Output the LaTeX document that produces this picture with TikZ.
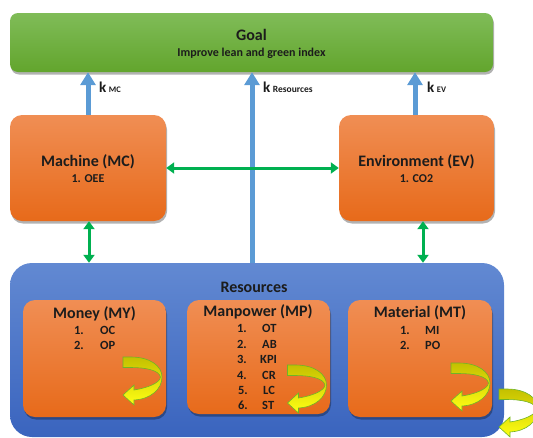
\documentclass[tikz,border=0pt]{standalone}
\usepackage{fontspec}
\setmainfont{Carlito}
\usetikzlibrary{arrows.meta,shadows,calc}
\definecolor{txtc}{RGB}{28,28,28}
\definecolor{goalT}{RGB}{128,188,88}
\definecolor{goalB}{RGB}{98,165,45}
\definecolor{orT}{RGB}{240,142,84}
\definecolor{orB}{RGB}{231,106,26}
\definecolor{blT}{RGB}{98,137,210}
\definecolor{blB}{RGB}{58,100,190}
\definecolor{arrblue}{RGB}{91,155,213}
\definecolor{arrgreen}{RGB}{0,176,80}
\definecolor{curvT}{RGB}{196,192,0}
\definecolor{curvB}{RGB}{255,255,20}
\definecolor{curvO}{RGB}{110,180,40}
\newcommand{\curvarrow}[2]{%
  \begin{scope}[shift={(#1,#2)}]
    \path[curvstyle] (0,0) -- (8,0) .. controls (27,0) and (39,9) .. (39,20)
      .. controls (39,32) and (28,42) .. (11,43) -- (11,48) -- (0,38) -- (11,28) -- (11,33)
      .. controls (24,31) and (37,26) .. (37.5,20)
      .. controls (36,13) and (22,10.5) .. (8,10.5) -- (0,10.5) -- cycle;
  \end{scope}}
\begin{document}
\begin{tikzpicture}[x=1pt,y=-1pt,
  box/.style={rounded corners=12pt, draw=none, inner sep=0pt},
  goalbox/.style={box, rounded corners=8pt, top color=goalT, bottom color=goalB,
     drop shadow={opacity=0.3, shadow xshift=1pt, shadow yshift=-2.5pt, fill=black}},
  orbox/.style={box, top color=orT, bottom color=orB,
     drop shadow={opacity=0.3, shadow xshift=1pt, shadow yshift=-2.5pt, fill=black}},
  resbox/.style={box, rounded corners=22pt, top color=blT, bottom color=blB},
  bluearr/.style={draw=arrblue, line width=5pt, -{Triangle[width=15pt,length=13pt]}},
  greenarr/.style={draw=arrgreen, line width=3pt,
     {Triangle[width=11pt,length=8pt]}-{Triangle[width=11pt,length=8pt]}},
  title/.style={font=\fontsize{16}{18}\selectfont\bfseries, text=txtc, inner sep=0pt},
  sub/.style={font=\fontsize{12}{14}\selectfont\bfseries, text=txtc, inner sep=0pt},
  item/.style={font=\fontsize{12.5}{14}\selectfont\bfseries, text=txtc, inner sep=0pt},
  klab/.style={text=txtc, inner sep=0pt, anchor=west},
  curvstyle/.style={top color=curvT, bottom color=curvB, draw=curvO, line width=0.6pt}
]
\useasboundingbox (0,0) rectangle (533,437);
\clip (0,0) rectangle (533,437);

% boxes
\node[goalbox, minimum width=483pt, minimum height=59pt] (goal) at (251.5,42.5) {};
\node[title] (goalt) at (251.5,35) {Goal};
\node[sub] (goals) at (251.5,53) {Improve lean and green index};

\node[resbox, minimum width=494pt, minimum height=174pt] (res) at (257,350) {};
\node[title] (rest) at (254,287) {Resources};

\node[orbox, minimum width=156pt, minimum height=106pt] (mc) at (88,168) {};
\node[title] (mct) at (88,162) {Machine (MC)};
\node[sub] (mcs) at (88,179) {1. OEE};

\node[orbox, minimum width=155pt, minimum height=106pt] (ev) at (416.5,168) {};
\node[title] (evt) at (416.5,162) {Environment (EV)};
\node[sub] (evs) at (416.5,179) {1. CO2};

\node[orbox, minimum width=143pt, minimum height=117pt] (my) at (94.5,358.5) {};
\node[title] (myt) at (94.5,314) {Money (MY)};
\node[item, anchor=east] (my1n) at (84,330) {1.};
\node[item, anchor=west] (my1) at (100,330) {OC};
\node[item, anchor=east] (my2n) at (84,345) {2.};
\node[item, anchor=west] (my2) at (100,345) {OP};

\node[orbox, minimum width=143pt, minimum height=114pt] (mp) at (258.5,357) {};
\node[title] (mpt) at (258,312) {Manpower (MP)};
\node[item, anchor=east] (mp1n) at (247,328) {1.};
\node[item, anchor=west] (mp1) at (262,328) {OT};
\node[item, anchor=east] (mp2n) at (247,344) {2.};
\node[item, anchor=west] (mp2) at (262,344) {AB};
\node[item, anchor=east] (mp3n) at (247,359.5) {3.};
\node[item, anchor=west] (mp3) at (260,359.5) {KPI};
\node[item, anchor=east] (mp4n) at (247,375) {4.};
\node[item, anchor=west] (mp4) at (262,375) {CR};
\node[item, anchor=east] (mp5n) at (248,390.5) {5.};
\node[item, anchor=west] (mp5) at (263,390.5) {LC};
\node[item, anchor=east] (mp6n) at (248,405.5) {6.};
\node[item, anchor=west] (mp6) at (262,405.5) {ST};

\node[orbox, minimum width=144pt, minimum height=117pt] (mt) at (420,358.5) {};
\node[title] (mtt) at (420,313) {Material (MT)};
\node[item, anchor=east] (mt1n) at (410,330) {1.};
\node[item, anchor=west] (mt1) at (425,330) {MI};
\node[item, anchor=east] (mt2n) at (410,345) {2.};
\node[item, anchor=west] (mt2) at (425,345) {PO};

% curved arrows
\curvarrow{123}{357}
\curvarrow{287.5}{365}
\curvarrow{451}{363}
\curvarrow{499}{389}

% blue arrows
\draw[bluearr] (mc.north) -- (mc.north |- goal.south);
\draw[bluearr] ([xshift=-1.5pt]ev.north) -- ([xshift=-1.5pt]ev.north |- goal.south);
\coordinate (rc) at ([xshift=-5pt]res.north);
\draw[bluearr] (rc) -- (rc |- goal.south);

\node[klab] (kmc) at (99,87) {\fontsize{15}{16}\selectfont\bfseries k\,\fontsize{8.5}{9}\selectfont MC};
\node[klab] (kres) at (263,87) {\fontsize{15}{16}\selectfont\bfseries k\,\fontsize{9.5}{10}\selectfont Resources};
\node[klab] (kev) at (427,87) {\fontsize{15}{16}\selectfont\bfseries k\,\fontsize{8.5}{9}\selectfont EV};

% green arrows
\draw[greenarr] (mc.east) -- (ev.west);
\draw[greenarr] ([xshift=1pt]mc.south) -- ([xshift=1pt]mc.south |- res.north);
\draw[greenarr] ([xshift=6.5pt]ev.south) -- ([xshift=6.5pt]ev.south |- res.north);
\end{tikzpicture}
\end{document}
